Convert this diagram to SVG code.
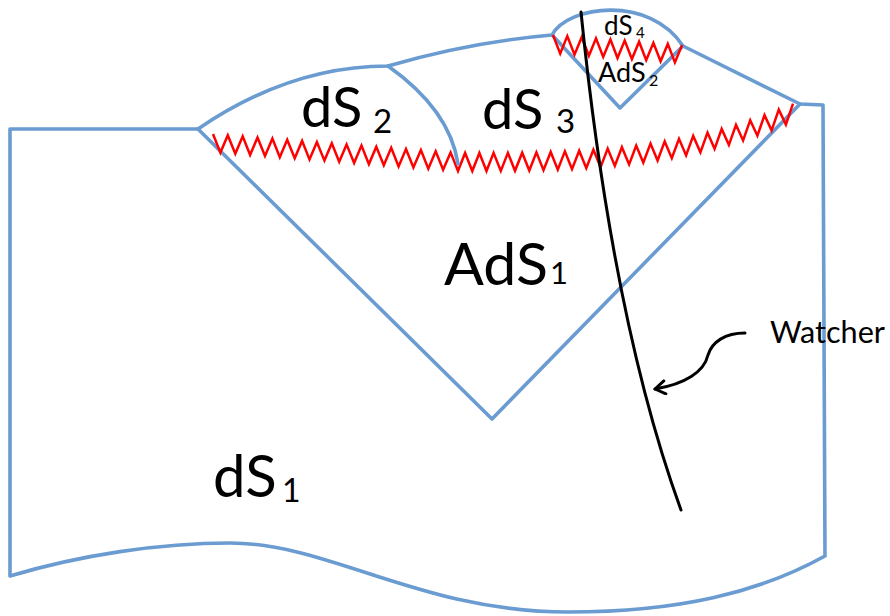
<svg xmlns="http://www.w3.org/2000/svg" width="890" height="616" viewBox="0 0 890 616">
<style>
.b{fill:none;stroke:#6a9bd1;stroke-width:3.6;stroke-linejoin:round;stroke-linecap:round}
.z{fill:none;stroke:#ff0000;stroke-width:2.5;stroke-linejoin:miter}
.k{fill:none;stroke:#000;stroke-width:3;stroke-linecap:round}
text{font-family:Lato,"Open Sans",sans-serif;fill:#000}
</style>
<defs>
<marker id="ah" viewBox="0 0 14 16" refX="12" refY="8" markerWidth="14" markerHeight="16" markerUnits="userSpaceOnUse" orient="auto">
<path d="M2,1.5 L12,8 L2,14.5" fill="none" stroke="#000" stroke-width="3" stroke-linecap="round" stroke-linejoin="round"/>
</marker>
</defs>
<rect width="890" height="616" fill="#fff"/>
<g id="dS1">
<path class="b" d="M10,576 L10,129 L198,129 Q290,66 388,66 Q470,42 552,35 C568,5 650,-5 683,46 L800,104 L823,105 L825,556 C760,592 680,612 568,612 C420,612 330,543 230,543 C160,543 80,555 10,576 Z"/>
<text x="213" y="497" font-size="58">dS</text><text x="282" y="502" font-size="32">1</text>
</g>
<g id="AdS1">
<path class="b" d="M198,129 L492,419 L800,104"/>
<polyline class="z" points="213.0,134.0 220.4,152.6 227.8,135.2 235.3,153.7 242.7,136.3 250.1,154.9 257.5,137.5 265.0,156.0 272.4,138.6 279.8,157.2 287.2,139.8 294.7,158.3 302.1,140.9 309.5,159.5 316.9,142.1 324.4,160.6 331.8,143.2 339.2,161.8 346.6,144.4 354.1,162.9 361.5,145.5 368.9,164.1 376.3,146.7 383.8,165.2 391.2,147.8 398.6,166.4 406.0,149.0 413.4,167.5 420.9,150.1 428.3,168.7 435.7,151.3 443.1,169.8 450.6,152.4 458.0,171.0 465.1,153.0 472.3,171.0 479.4,153.0 486.5,171.0 493.6,152.9 500.8,170.9 507.9,152.8 515.0,170.8 522.2,152.7 529.3,170.5 536.4,152.4 543.5,170.2 550.7,152.0 557.8,169.7 564.9,151.4 572.0,169.1 579.2,150.7 586.3,168.2 593.4,149.7 600.6,167.2 607.7,148.6 614.8,165.9 621.9,147.2 629.1,164.4 636.2,145.6 643.3,162.6 650.5,143.6 657.6,160.5 664.7,141.4 671.8,158.2 679.0,138.8 686.1,155.4 693.2,135.9 700.4,152.3 707.5,132.6 714.6,148.8 721.7,128.9 728.9,144.9 736.0,124.8 743.1,140.5 750.2,120.2 757.4,135.7 764.5,115.1 771.6,130.4 778.8,109.6 785.9,124.6 793.0,103.6"/>
<text x="444" y="285" font-size="59">AdS</text><text x="550" y="284" font-size="31">1</text>
</g>
<g id="dS2">
<path class="b" d="M388,66 Q450,110 458,164"/>
<text x="301" y="127" font-size="56">dS</text><text x="373" y="133" font-size="33">2</text>
</g>
<g id="dS3">
<text x="482" y="129" font-size="56">dS</text><text x="556" y="133" font-size="33">3</text>
</g>
<g id="AdS2">
<path class="b" d="M553,36 L620,108 L683,46"/>
<polyline class="z" points="553.0,35.0 560.2,53.6 567.3,36.1 574.5,54.7 581.7,37.2 588.9,55.8 596.0,38.3 603.2,56.9 610.4,39.4 617.5,58.0 624.7,40.6 631.9,59.1 639.1,41.7 646.2,60.2 653.4,42.8 660.6,61.3 667.8,43.9 674.9,62.4 682.1,45.0"/>
<text x="598" y="82" font-size="27">AdS</text><text x="649" y="86" font-size="16">2</text>
</g>
<g id="dS4">
<text x="604" y="35" font-size="26">dS</text><text x="636" y="38" font-size="15">4</text>
</g>
<g id="watcher">
<path class="k" d="M581,12 C600,200 630,370 681,510"/>
<text x="770" y="343" font-size="30" textLength="115" lengthAdjust="spacingAndGlyphs">Watcher</text>
</g>
<g id="connectors">
<path class="k" d="M745,333 C725,333 712,342 708,355 C704,372 685,384 655,389" marker-end="url(#ah)"/>
</g>
</svg>
